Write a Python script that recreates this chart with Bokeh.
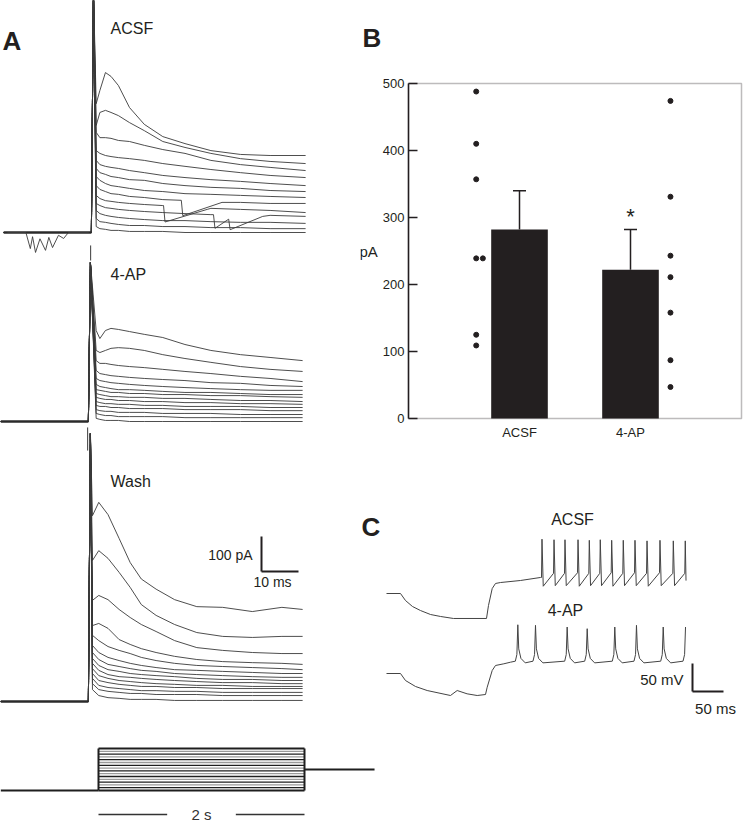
from bokeh.plotting import figure
from bokeh.layouts import row, column
from bokeh.models import Range1d, FixedTicker, Whisker, TeeHead, ColumnDataSource, BoxAnnotation
from bokeh.embed import file_html
from bokeh.resources import INLINE
from bokeh.core.properties import value

FONT = "Liberation Sans"
INK = "#231f20"
TRACE = "#3a3a3a"

# ===================== DATA =====================
# ---- Panel A: evoked currents (pA, relative to baseline) vs time after stimulus (ms)
acsf_t = [1, 2, 3.5, 5, 7, 10, 14, 19, 25, 32, 40, 48, 57.6]
acsf_traces = [
    [368, 406, 457, 446, 420, 357, 309, 274, 254, 234, 223, 220, 220],
    [306, 343, 349, 343, 334, 314, 291, 260, 243, 226, 211, 203, 197],
    [286, 271, 271, 269, 263, 260, 249, 237, 226, 206, 194, 186, 177],
    [234, 226, 220, 217, 214, 211, 206, 197, 189, 180, 171, 163, 157],
    [206, 194, 189, 186, 183, 177, 171, 163, 157, 151, 146, 140, 134],
    [183, 171, 166, 160, 157, 151, 149, 140, 134, 129, 126, 120, 117],
    [160, 149, 140, 134, 131, 126, 120, 117, 111, 109, 106, 103, 100],
    [134, 123, 117, 111, 109, 103, 100, 94, 91, 89, 86, 83, 83],
    [106, 97, 91, 89, 86, 83, 80, 77, 74, 69, 66, 63, 57],
    [83, 77, 71, 69, 66, 63, 60, 57, 54, 51, 49, 49, 46],
    [63, 54, 49, 46, 43, 40, 37, 34, 34, 31, 29, 29, 26],
    [40, 31, 29, 26, 23, 20, 20, 17, 17, 14, 14, 11, 11],
    [17, 11, 9, 6, 6, 3, 3, 3, 0, 0, 0, 0, 0],
]
# spontaneous events riding on some ACSF traces: trace index -> (ms, pA) points
acsf_events = {
    7: [(24.0, 92), (24.4, 48), (35.0, 86)],
    8: [(19.2, 77), (19.6, 30), (31.0, 66)],
    9: [(32.7, 51), (33.1, 12), (36.8, 38), (37.2, 8), (46.0, 46)],
}
acsf_spont_t = [-23, -18, -16.8, -16.2, -15.4, -14.2, -12.7, -11.8, -10.8, -9.2, -7.8, -6.5, -1]
acsf_spont_v = [0, 0, -46, -12, -57, -18, -51, -14, -43, -8, -17, 0, 0]
acsf_artifact = 700
acsf_tick = (-37, -80)

ap_t = [1.8, 2.8, 4.3, 5.8, 7.8, 10.8, 14.8, 19.8, 25.8, 32.8, 40.8, 48.8, 57.6]
ap_traces = [
    [260, 237, 260, 266, 263, 257, 249, 240, 220, 203, 191, 183, 174],
    [203, 197, 203, 209, 211, 209, 203, 191, 180, 169, 157, 149, 143],
    [174, 166, 166, 163, 160, 157, 154, 149, 143, 137, 129, 123, 114],
    [146, 137, 134, 131, 129, 126, 123, 120, 117, 111, 109, 103, 100],
    [123, 117, 114, 111, 109, 106, 103, 100, 97, 94, 91, 89, 89],
    [106, 100, 97, 94, 91, 91, 89, 86, 83, 83, 80, 77, 77],
    [91, 89, 86, 83, 83, 80, 80, 77, 77, 74, 74, 71, 69],
    [80, 77, 74, 71, 71, 69, 69, 66, 66, 63, 60, 60, 57],
    [69, 66, 63, 63, 60, 60, 57, 57, 54, 54, 51, 51, 49],
    [57, 54, 51, 51, 49, 49, 46, 46, 43, 43, 43, 40, 40],
    [46, 43, 43, 40, 40, 37, 37, 37, 34, 34, 34, 31, 31],
    [34, 31, 29, 29, 26, 26, 26, 23, 23, 23, 20, 20, 20],
    [23, 20, 17, 17, 14, 14, 14, 14, 11, 11, 11, 11, 11],
    [9, 6, 3, 3, 3, 0, 0, 0, 0, 0, 0, 0, 0],
]
ap_artifact = 454
ap_tick = (-17, -83)

wash_t = [0.8, 2.5, 5, 8, 11, 14, 18, 23, 29, 36, 44, 52, 57.6]
wash_traces = [
    [531, 569, 534, 466, 397, 350, 321, 291, 271, 269, 257, 269, 263],
    [403, 431, 409, 369, 326, 277, 246, 220, 197, 186, 183, 186, 186],
    [289, 303, 291, 263, 240, 220, 200, 174, 154, 146, 140, 137, 137],
    [217, 223, 209, 177, 163, 151, 140, 129, 120, 114, 111, 109, 106],
    [189, 174, 157, 146, 137, 126, 117, 109, 103, 100, 97, 94, 91],
    [160, 140, 126, 117, 109, 103, 97, 91, 89, 86, 83, 80, 80],
    [140, 120, 106, 100, 94, 89, 86, 80, 77, 74, 71, 69, 69],
    [123, 103, 91, 86, 80, 77, 74, 71, 66, 63, 63, 60, 60],
    [109, 89, 77, 71, 69, 66, 63, 60, 57, 54, 54, 51, 51],
    [94, 74, 66, 60, 57, 54, 51, 49, 46, 46, 43, 43, 43],
    [80, 60, 54, 49, 46, 43, 43, 40, 40, 37, 37, 37, 37],
    [66, 46, 40, 37, 34, 31, 31, 29, 29, 26, 26, 26, 26],
    [51, 34, 29, 26, 23, 23, 20, 20, 20, 17, 17, 17, 17],
    [34, 17, 11, 9, 6, 6, 6, 3, 3, 3, 3, 3, 3],
]
wash_artifact = 766

scale_A_pA = 100
scale_A_ms = 10

# ---- Stimulus protocol (current-step family)
stim_levels = [0, 1, 2, 3, 4, 5, 6, 7, 8, 9, 10, 11, 12, 13, 14, 15]
stim_dur_s = 2
stim_post_level = 7.5
stim_pre_s = -0.95
stim_post_end_s = 2.68

# ---- Panel B: peak current (pA)
groups = ["ACSF", "4-AP"]
means = [282, 222]
sems = [58, 60]
significant = [False, True]
acsf_cells = [488, 410, 357, 239, 239, 125, 109]
ap_cells = [474, 331, 243, 211, 158, 87, 47]
y_ticks_B = [0, 100, 200, 300, 400, 500]

# ---- Panel C: membrane potential (mV, relative to start) vs time (ms)
c_acsf_t = [0, 22.6, 30.6, 41.9, 54.8, 71, 87, 108, 161.3, 164.5, 170.5, 175.8, 183.9, 216, 248.4]
c_acsf_v = [0, 0, -12.5, -23.2, -30.4, -37.5, -41, -44.6, -44.6, -21.4, 8.9, 17.9, 19.6, 23.2, 28.6]
c_acsf_spike_t = [250, 269.4, 287.1, 308.1, 326.3, 344, 362.4, 381.1, 400, 419.4, 440.3, 461.8, 481.1]
c_acsf_spike_peak = [97, 96, 96, 96, 95, 96, 95, 95, 95, 94, 95, 94, 94]
c_acsf_spike_pre = [28.6, 36, 36, 37, 36, 36, 37, 36, 37, 36, 37, 36, 36]
c_acsf_spike_trough = [13, 14, 14, 13, 14, 14, 13, 14, 14, 13, 14, 14, 23]

c_ap_t = [0, 22.6, 30.6, 46.8, 65.6, 103.2, 114, 130, 146.3, 159.7, 162.4, 170.5, 175.8, 189.2, 200]
c_ap_v = [0, 0, -12.5, -23.2, -30.4, -39.3, -30.4, -36.3, -39.3, -37.5, -24.5, 5.4, 14.3, 17.3, 20.2]
c_ap_spike_t = [211.8, 240.3, 291.4, 323.7, 368.2, 403.2, 446.3, 482.3]
c_ap_spike_peak = [87, 86, 83, 80, 83, 86, 83, 83]
c_ap_foot = [(-4, 22), (-1.5, 34)]          # (ms from spike, mV) before each spike
c_ap_fall = [(1.5, 44), (5, 27), (12, 19)]  # (ms from spike, mV) after each spike

scale_C_mV = 50
scale_C_ms = 50

# ===================== LAYOUT CONSTANTS (page pixels) =====================
A_W, A_H = 360, 743
R_W = 384
BL_H, B_H, C_H = 60, 398, 285
S_W, S_H = A_W + R_W, 81

PXA_MS, PXA_PA = 3.7, 0.35
A_STIM_PX = 89
A_BASE_PX = {"ACSF": 511, "4-AP": 322, "Wash": 42}
A_SHIFT_PX = {"ACSF": 3, "4-AP": 0, "Wash": 0}
PRE_MS, ART_MS = -24.0, 0.25

B_AX_PX, B_PX_UNIT = 48, 111.0    # y-axis 48 px into panel B; px per category unit
B_PX_PA = 0.67                    # px per pA on the bar chart
B_PAD_TOP_PX, B_PAD_BOT_PX = 10, 10
B_TOP_PX = 13                     # frame starts this far below the letter strip

PXC_MS, PXC_MV = 0.62, 0.56
C_X0, C_Y0 = 360, 458
C_T0_PX = 26
C_BASE_PX = {"ACSF": 150, "4-AP": 70}

PXS_S, PXS_LVL = 103.0, 2.8
S_Y0 = 743
S_T0_PX, S_L0_PX = 98, 34


def clean(p):
    p.outline_line_color = None
    p.background_fill_color = "white"
    p.border_fill_color = "white"
    p.min_border = 0


def txt(p, x, y, s, size, align="left", baseline="middle", bold=False, color=INK):
    p.text(x=[x], y=[y], text=[s], text_font=value(FONT), text_font_size=size,
           text_align=align, text_baseline=baseline, text_color=color,
           text_font_style="bold" if bold else "normal")


def merge_events(ts, vs, ev):
    if not ev:
        return list(ts), list(vs)
    lo, hi = ev[0][0], ev[-1][0]
    pts = [(t, v) for t, v in zip(ts, vs) if t < lo or t > hi] + list(ev)
    pts.sort()
    return [q[0] for q in pts], [q[1] for q in pts]


# ===================== PANEL A =====================
pa = figure(width=A_W, height=A_H, x_axis_type=None, y_axis_type=None,
            x_range=Range1d(-A_STIM_PX / PXA_MS, (A_W - A_STIM_PX) / PXA_MS),
            y_range=Range1d(0, A_H / PXA_PA),
            output_backend="svg", toolbar_location=None)
clean(pa)


def a_pt(rx, ry):
    return (rx - A_STIM_PX) / PXA_MS, (A_H - ry) / PXA_PA


groupsA = [
    ("ACSF", acsf_t, acsf_traces, acsf_artifact, acsf_events, acsf_tick),
    ("4-AP", ap_t, ap_traces, ap_artifact, {}, ap_tick),
    ("Wash", wash_t, wash_traces, wash_artifact, {}, None),
]
for name, tt, traces, art, events, tick in groupsA:
    base = A_BASE_PX[name] / PXA_PA
    sh = A_SHIFT_PX[name] / PXA_MS
    xs_all, ys_all = [], []
    for i, vals in enumerate(traces):
        t2, v2 = merge_events(tt, vals, events.get(i))
        xs = [PRE_MS, -0.3, ART_MS] + t2
        ys = [0, 0, art] + v2
        xs_all.append([x + sh for x in xs])
        ys_all.append([y + base for y in ys])
    pa.multi_line(xs_all, ys_all, line_color=TRACE, line_width=0.9)
    pa.segment(x0=[PRE_MS + sh], y0=[base], x1=[-0.3 + sh], y1=[base],
               line_color="#2a2a2a", line_width=2.4)
    if tick is not None:
        pa.segment(x0=[-0.5 + sh], y0=[base + tick[0]], x1=[-0.5 + sh], y1=[base + tick[1]],
                   line_color=TRACE, line_width=1)
    if name == "ACSF":
        pa.line([x + sh for x in acsf_spont_t], [v + base for v in acsf_spont_v],
                line_color=TRACE, line_width=0.9)

# scale bar A
sbx, sby = a_pt(261, 571)
pa.segment(x0=[sbx, sbx], y0=[sby, sby], x1=[sbx, sbx + scale_A_ms], y1=[sby + scale_A_pA, sby],
           line_color=INK, line_width=2)
x, y = a_pt(252, 554); txt(pa, x, y, f"{scale_A_pA} pA", "14px", align="right")
x, y = a_pt(272, 581); txt(pa, x, y, f"{scale_A_ms} ms", "14px", align="center")
x, y = a_pt(110, 28); txt(pa, x, y, "ACSF", "16px")
x, y = a_pt(110, 274); txt(pa, x, y, "4-AP", "16px")
x, y = a_pt(110, 481); txt(pa, x, y, "Wash", "16px")
x, y = a_pt(2, 40); txt(pa, x, y, "A", "26px", bold=True)

# ===================== STIMULUS =====================
ps = figure(width=S_W, height=S_H, x_axis_type=None, y_axis_type=None,
            x_range=Range1d(-S_T0_PX / PXS_S, (S_W - S_T0_PX) / PXS_S),
            y_range=Range1d(-S_L0_PX / PXS_LVL, (S_H - S_L0_PX) / PXS_LVL),
            output_backend="svg", toolbar_location=None)
clean(ps)
top_lvl = stim_levels[-1]
inner = stim_levels[1:-1]
ps.segment(x0=[0] * len(inner), y0=inner, x1=[stim_dur_s] * len(inner), y1=inner,
           line_color=["#1e1e1e" if k % 2 else "#9a9a9a" for k in inner], line_width=1.3)
ps.segment(x0=[0, stim_dur_s, 0, 0, stim_pre_s, stim_dur_s],
           y0=[0, 0, 0, top_lvl, 0, stim_post_level],
           x1=[0, stim_dur_s, stim_dur_s, stim_dur_s, 0, stim_post_end_s],
           y1=[top_lvl, top_lvl, 0, top_lvl, 0, stim_post_level],
           line_color="#1e1e1e", line_width=2)
bar_y = ((S_Y0 + S_H - 814) - S_L0_PX) / PXS_LVL
ps.segment(x0=[0, stim_dur_s * 2 / 3], y0=[bar_y, bar_y], x1=[stim_dur_s / 3, stim_dur_s],
           y1=[bar_y, bar_y], line_color="#333333", line_width=1.6)
txt(ps, stim_dur_s / 2, bar_y, f"{stim_dur_s} s", "15px", align="center", color="#333333")

# ===================== PANEL B =====================
pbl = figure(width=R_W, height=BL_H, x_axis_type=None, y_axis_type=None,
             x_range=Range1d(0, R_W), y_range=Range1d(0, BL_H),
             output_backend="svg", toolbar_location=None)
clean(pbl)
txt(pbl, 2, BL_H - 37, "B", "26px", bold=True)

n_cat = len(groups) + 1
pad_top = B_PAD_TOP_PX / B_PX_PA
pad_bot = B_PAD_BOT_PX / B_PX_PA
frame_h = (y_ticks_B[-1] - y_ticks_B[0]) * B_PX_PA + B_PAD_TOP_PX + B_PAD_BOT_PX
pb = figure(width=R_W, height=B_H,
            x_range=Range1d(-B_AX_PX / B_PX_UNIT, (R_W - B_AX_PX) / B_PX_UNIT),
            y_range=Range1d(y_ticks_B[0] - pad_bot, y_ticks_B[-1] + pad_top),
            output_backend="svg", toolbar_location=None,
            min_border_left=0, min_border_right=0, min_border_top=B_TOP_PX,
            min_border_bottom=int(round(B_H - B_TOP_PX - frame_h)))
pb.background_fill_color = "white"
pb.border_fill_color = "white"
pb.outline_line_color = None
pb.grid.visible = False
xpos = [1, 2]
ya = pb.yaxis[0]
ya.fixed_location = 0
ya.bounds = (y_ticks_B[0], y_ticks_B[-1])
ya.ticker = FixedTicker(ticks=y_ticks_B)
ya.major_tick_in = 9
ya.major_tick_out = 0
ya.minor_tick_in = 0
ya.minor_tick_out = 0
ya.major_tick_line_width = 1.5
ya.major_tick_line_color = INK
ya.axis_line_color = INK
ya.axis_line_width = 1.5
ya.major_label_text_font = FONT
ya.major_label_text_font_size = "13px"
ya.major_label_text_color = INK
ya.major_label_standoff = 4
ya.axis_label = "pA"
ya.axis_label_orientation = "horizontal"
ya.axis_label_text_font = FONT
ya.axis_label_text_font_size = "15px"
ya.axis_label_text_font_style = "normal"
ya.axis_label_text_color = INK
ya.axis_label_standoff = 2
xa = pb.xaxis[0]
xa.ticker = FixedTicker(ticks=xpos)
xa.major_label_overrides = {xp: g for xp, g in zip(xpos, groups)}
xa.major_tick_in = 0
xa.major_tick_out = 0
xa.minor_tick_in = 0
xa.minor_tick_out = 0
xa.axis_line_color = None
xa.major_label_text_font = FONT
xa.major_label_text_font_size = "13px"
xa.major_label_text_color = INK
xa.major_label_standoff = -4
pb.add_layout(BoxAnnotation(left=0, right=n_cat, bottom=y_ticks_B[0], top=y_ticks_B[-1],
                            fill_alpha=0, line_color=INK, line_width=1.5))

pb.vbar(x=xpos, top=means, width=0.51, fill_color=INK, line_color=None)
wsrc = ColumnDataSource(dict(x=xpos, lo=means, hi=[m + s for m, s in zip(means, sems)]))
pb.add_layout(Whisker(base="x", lower="lo", upper="hi", source=wsrc, dimension="height",
                      line_color=INK, line_width=1.5, lower_head=None,
                      upper_head=TeeHead(size=13, line_color=INK, line_width=1.5)))
dx_acsf = [-0.39, -0.39, -0.39, -0.39, -0.33, -0.39, -0.39]
dx_ap = [0.36, 0.36, 0.36, 0.36, 0.36, 0.36, 0.36]
pb.scatter(x=[xpos[0] + d for d in dx_acsf], y=acsf_cells, size=5, color=INK)
pb.scatter(x=[xpos[1] + d for d in dx_ap], y=ap_cells, size=5, color=INK)
for xp, m, s, sig in zip(xpos, means, sems, significant):
    if sig:
        pb.text(x=[xp], y=[m + s], text=["*"], text_font=value(FONT), text_font_size="22px",
                text_align="center", text_baseline="bottom", text_color=INK, y_offset=-1)

# ===================== PANEL C =====================
pc = figure(width=R_W, height=C_H, x_axis_type=None, y_axis_type=None,
            x_range=Range1d(-C_T0_PX / PXC_MS, (R_W - C_T0_PX) / PXC_MS),
            y_range=Range1d(0, C_H / PXC_MV),
            output_backend="svg", toolbar_location=None)
clean(pc)


def c_pt(rx, ry):
    return (rx - C_X0 - C_T0_PX) / PXC_MS, (C_Y0 + C_H - ry) / PXC_MV


# ACSF trace
xs, ys = list(c_acsf_t), list(c_acsf_v)
n = len(c_acsf_spike_t)
for i, (ts, pk, pre, tr) in enumerate(zip(c_acsf_spike_t, c_acsf_spike_peak,
                                          c_acsf_spike_pre, c_acsf_spike_trough)):
    xs += [ts, ts + 0.8]
    ys += [pre, pk]
    xs.append(ts + 2.8 if i < n - 1 else ts + 2.0)
    ys.append(tr)
bA = C_BASE_PX["ACSF"] / PXC_MV
pc.line(xs, [v + bA for v in ys], line_color="#444444", line_width=1)

# 4-AP trace
xs, ys = list(c_ap_t), list(c_ap_v)
n = len(c_ap_spike_t)
for i, (ts, pk) in enumerate(zip(c_ap_spike_t, c_ap_spike_peak)):
    for dt, v in c_ap_foot:
        xs.append(ts + dt); ys.append(v)
    xs.append(ts); ys.append(pk)
    if i < n - 1:
        for dt, v in c_ap_fall:
            xs.append(ts + dt); ys.append(v)
bP = C_BASE_PX["4-AP"] / PXC_MV
pc.line(xs, [v + bP for v in ys], line_color="#444444", line_width=1)

cx, cy = c_pt(692, 691)
pc.segment(x0=[cx, cx], y0=[cy, cy], x1=[cx, cx + scale_C_ms], y1=[cy + scale_C_mV, cy],
           line_color=INK, line_width=2)
x, y = c_pt(683, 679); txt(pc, x, y, f"{scale_C_mV} mV", "15px", align="right")
x, y = c_pt(715, 708); txt(pc, x, y, f"{scale_C_ms} ms", "15px", align="center")
x, y = c_pt(572, 519); txt(pc, x, y, "ACSF", "16px", align="center")
x, y = c_pt(565, 610); txt(pc, x, y, "4-AP", "16px", align="center")
x, y = c_pt(361, 526); txt(pc, x, y, "C", "26px", bold=True)

page = column(row(pa, column(pbl, pb, pc)), ps)
open("out.html", "w").write(file_html(page, INLINE))
